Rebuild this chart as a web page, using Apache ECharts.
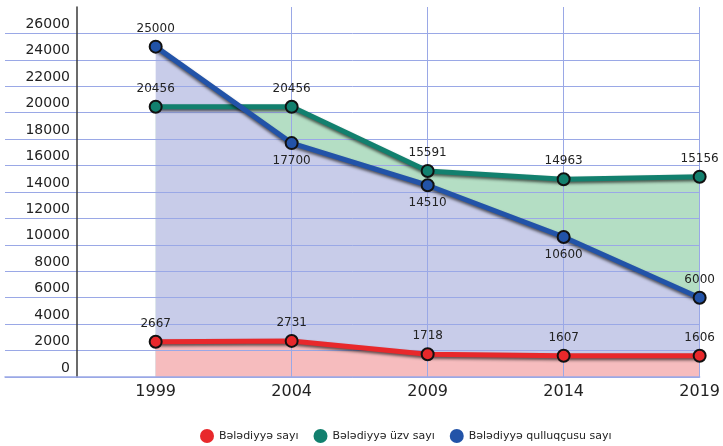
<!DOCTYPE html>
<html>
<head>
<meta charset="utf-8">
<script src="https://cdn.jsdelivr.net/npm/echarts@6/dist/echarts.min.js"></script>
<style>
  html, body { margin: 0; padding: 0; background: #fff; }
  #chart { width: 723px; height: 446px; }
</style>
</head>
<body>
<div id="chart"></div>
<script>
// data
var years = [1999, 2004, 2009, 2014, 2019];
var baladiyyaSayi = [2667, 2731, 1718, 1607, 1606];
var uzvSayi = [20456, 20456, 15591, 14963, 15156];
var qulluqcuSayi = [25000, 17700, 14510, 10600, 6000];
var seriesNames = ["Bələdiyyə sayı", "Bələdiyyə üzv sayı", "Bələdiyyə qulluqçusu sayı"];

var lineColors = ["#e8282b", "#12806e", "#2253a8"];
var areaColors = ["#f6bcbe", "#b4dec4", "#c8cce9"];
var gridColor = "#9aa8e6";
// label side for each point of the blue line
var blueLabelPos = ["top", "bottom", "bottom", "bottom", "top"];

var myChart = echarts.init(document.getElementById("chart"));

function pairs(vals) {
  var out = [];
  for (var i = 0; i < years.length; i++) out.push([years[i], vals[i]]);
  return out;
}

function areaSeries(name, vals, k) {
  return {
    name: name,
    type: "line",
    z: 1,
    data: pairs(vals),
    symbol: "none",
    silent: true,
    color: lineColors[k],
    lineStyle: { width: 0 },
    areaStyle: { color: areaColors[k], opacity: 1 }
  };
}

function lineSeries(name, vals, k, positions) {
  var data = pairs(vals).map(function (p, i) {
    return {
      value: p,
      label: { position: positions ? positions[i] : "top" }
    };
  });
  return {
    name: name,
    type: "line",
    z: 3,
    data: data,
    symbol: "circle",
    symbolSize: 12,
    color: lineColors[k],
    itemStyle: { color: lineColors[k], borderColor: "#111", borderWidth: 2 },
    lineStyle: {
      color: lineColors[k],
      width: 5,
      shadowColor: "rgba(0,0,0,0.6)",
      shadowBlur: 3,
      shadowOffsetY: 2
    },
    label: {
      show: true,
      color: "#222",
      fontSize: 12,
      fontFamily: "DejaVu Sans",
      distance: 5,
      formatter: function (p) { return p.value[1]; }
    }
  };
}

var option = {
  animation: false,
  backgroundColor: "#fff",
  grid: { left: 5, right: 15, top: 7, bottom: 69 },
  legend: {
    top: 424,
    left: 195,
    icon: "circle",
    itemWidth: 14,
    itemHeight: 14,
    itemGap: 15,
    data: seriesNames,
    textStyle: { fontSize: 11, color: "#222", fontFamily: "DejaVu Sans" }
  },
  xAxis: {
    type: "value",
    min: 1993.46,
    max: 2019,
    z: 2,
    axisLine: { show: true, lineStyle: { color: gridColor, width: 1.5 } },
    axisTick: { show: false, customValues: years },
    axisLabel: {
      customValues: years,
      fontSize: 16,
      color: "#222",
      fontFamily: "DejaVu Sans",
      margin: 7,
      formatter: function (v) { return String(v); }
    },
    splitLine: { show: true, showMinLine: false, lineStyle: { color: gridColor, width: 1 } }
  },
  yAxis: {
    type: "value",
    min: 0,
    max: 28000,
    interval: 2000,
    offset: -72,
    z: 2,
    axisLine: { show: true, lineStyle: { color: "#3a3a3a", width: 1.5 } },
    axisTick: { show: false },
    axisLabel: {
      fontSize: 14,
      color: "#222",
      fontFamily: "DejaVu Sans",
      margin: 7,
      verticalAlign: "bottom",
      padding: [0, 0, 2, 0],
      formatter: function (v) { return v >= 28000 ? "" : String(v); }
    },
    splitLine: { show: true, showMaxLine: false, lineStyle: { color: gridColor, width: 1 } }
  },
  series: [
    areaSeries(seriesNames[1], uzvSayi, 1),
    areaSeries(seriesNames[2], qulluqcuSayi, 2),
    areaSeries(seriesNames[0], baladiyyaSayi, 0),
    lineSeries(seriesNames[1], uzvSayi, 1),
    lineSeries(seriesNames[2], qulluqcuSayi, 2, blueLabelPos),
    lineSeries(seriesNames[0], baladiyyaSayi, 0)
  ]
};

myChart.setOption(option);
</script>
</body>
</html>
